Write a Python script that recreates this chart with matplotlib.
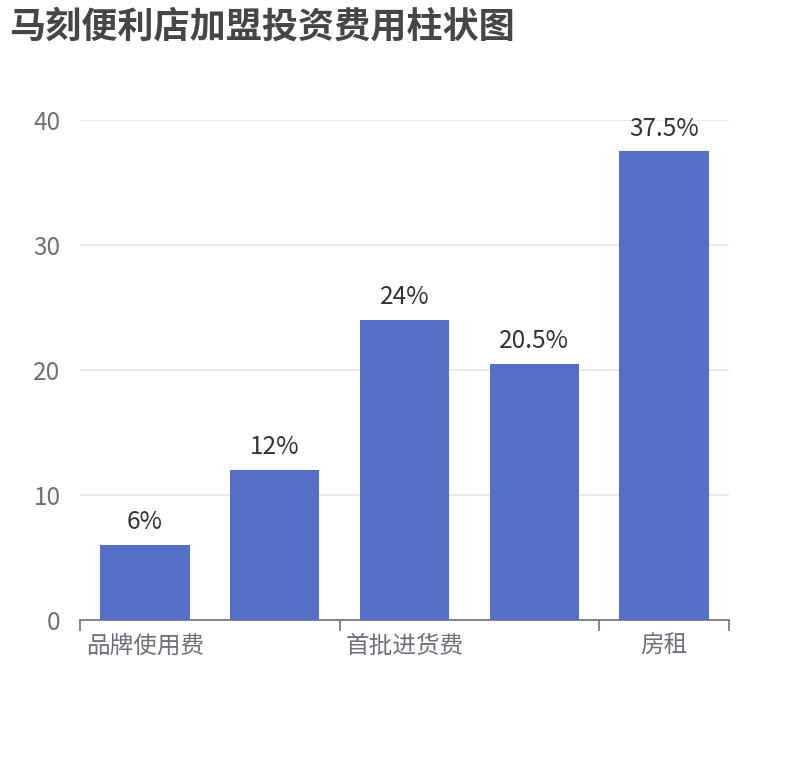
import matplotlib
matplotlib.use("Agg")
import matplotlib.pyplot as plt

plt.rcParams['font.family'] = ['Noto Sans CJK SC', 'DejaVu Sans']

# 5 categories, only every other label is shown in the original
categories = ['品牌使用费', '装修费', '首批进货费', '设备费', '房租']
values = [6, 12, 24, 20.5, 37.5]
value_labels = ['6%', '12%', '24%', '20.5%', '37.5%']
y_ticks = [0, 10, 20, 30, 40]

fig = plt.figure(figsize=(8.1, 7.6), dpi=100)
W, H = 810, 760
ax = fig.add_axes([80 / W, 1 - 620 / H, (729 - 80) / W, (620 - 120) / H])

x = list(range(len(categories)))
ax.bar(x, values, width=0.69, color='#5470C6', zorder=3)
for xi, v, lab in zip(x, values, value_labels):
    ax.annotate(lab, (xi, v), xytext=(0, 7), textcoords='offset points',
                ha='center', va='bottom', fontsize=17.5, color='#333333')

ax.set_xlim(-0.5, len(categories) - 0.5)
ax.set_ylim(0, 40)
ax.set_yticks(y_ticks)
ax.set_yticklabels([str(t) for t in y_ticks])
ax.grid(axis='y', color='#E0E6F1', linewidth=1.2, zorder=0)
ax.tick_params(axis='y', length=0, pad=14, labelsize=17.5, labelcolor='#6E7079')

# ticks on category boundaries, labels every other category
ax.set_xticks([-0.5, 1.5, 3.5, 4.5])
ax.set_xticklabels([])
ax.tick_params(axis='x', length=8, width=1.2, color='#6E7079')
for i in range(0, len(categories), 2):
    ax.text(i, -0.03, categories[i], transform=ax.get_xaxis_transform(),
            ha='center', va='top', fontsize=17, color='#6E7079')

for s in ['top', 'right', 'left']:
    ax.spines[s].set_visible(False)
ax.spines['bottom'].set_color('#6E7079')
ax.spines['bottom'].set_linewidth(1.2)

fig.text(9 / W, 1 - 9 / H, '马刻便利店加盟投资费用柱状图', ha='left', va='top',
         fontsize=26, fontweight='bold', color='#464646')

fig.savefig('out.png', dpi=100)
